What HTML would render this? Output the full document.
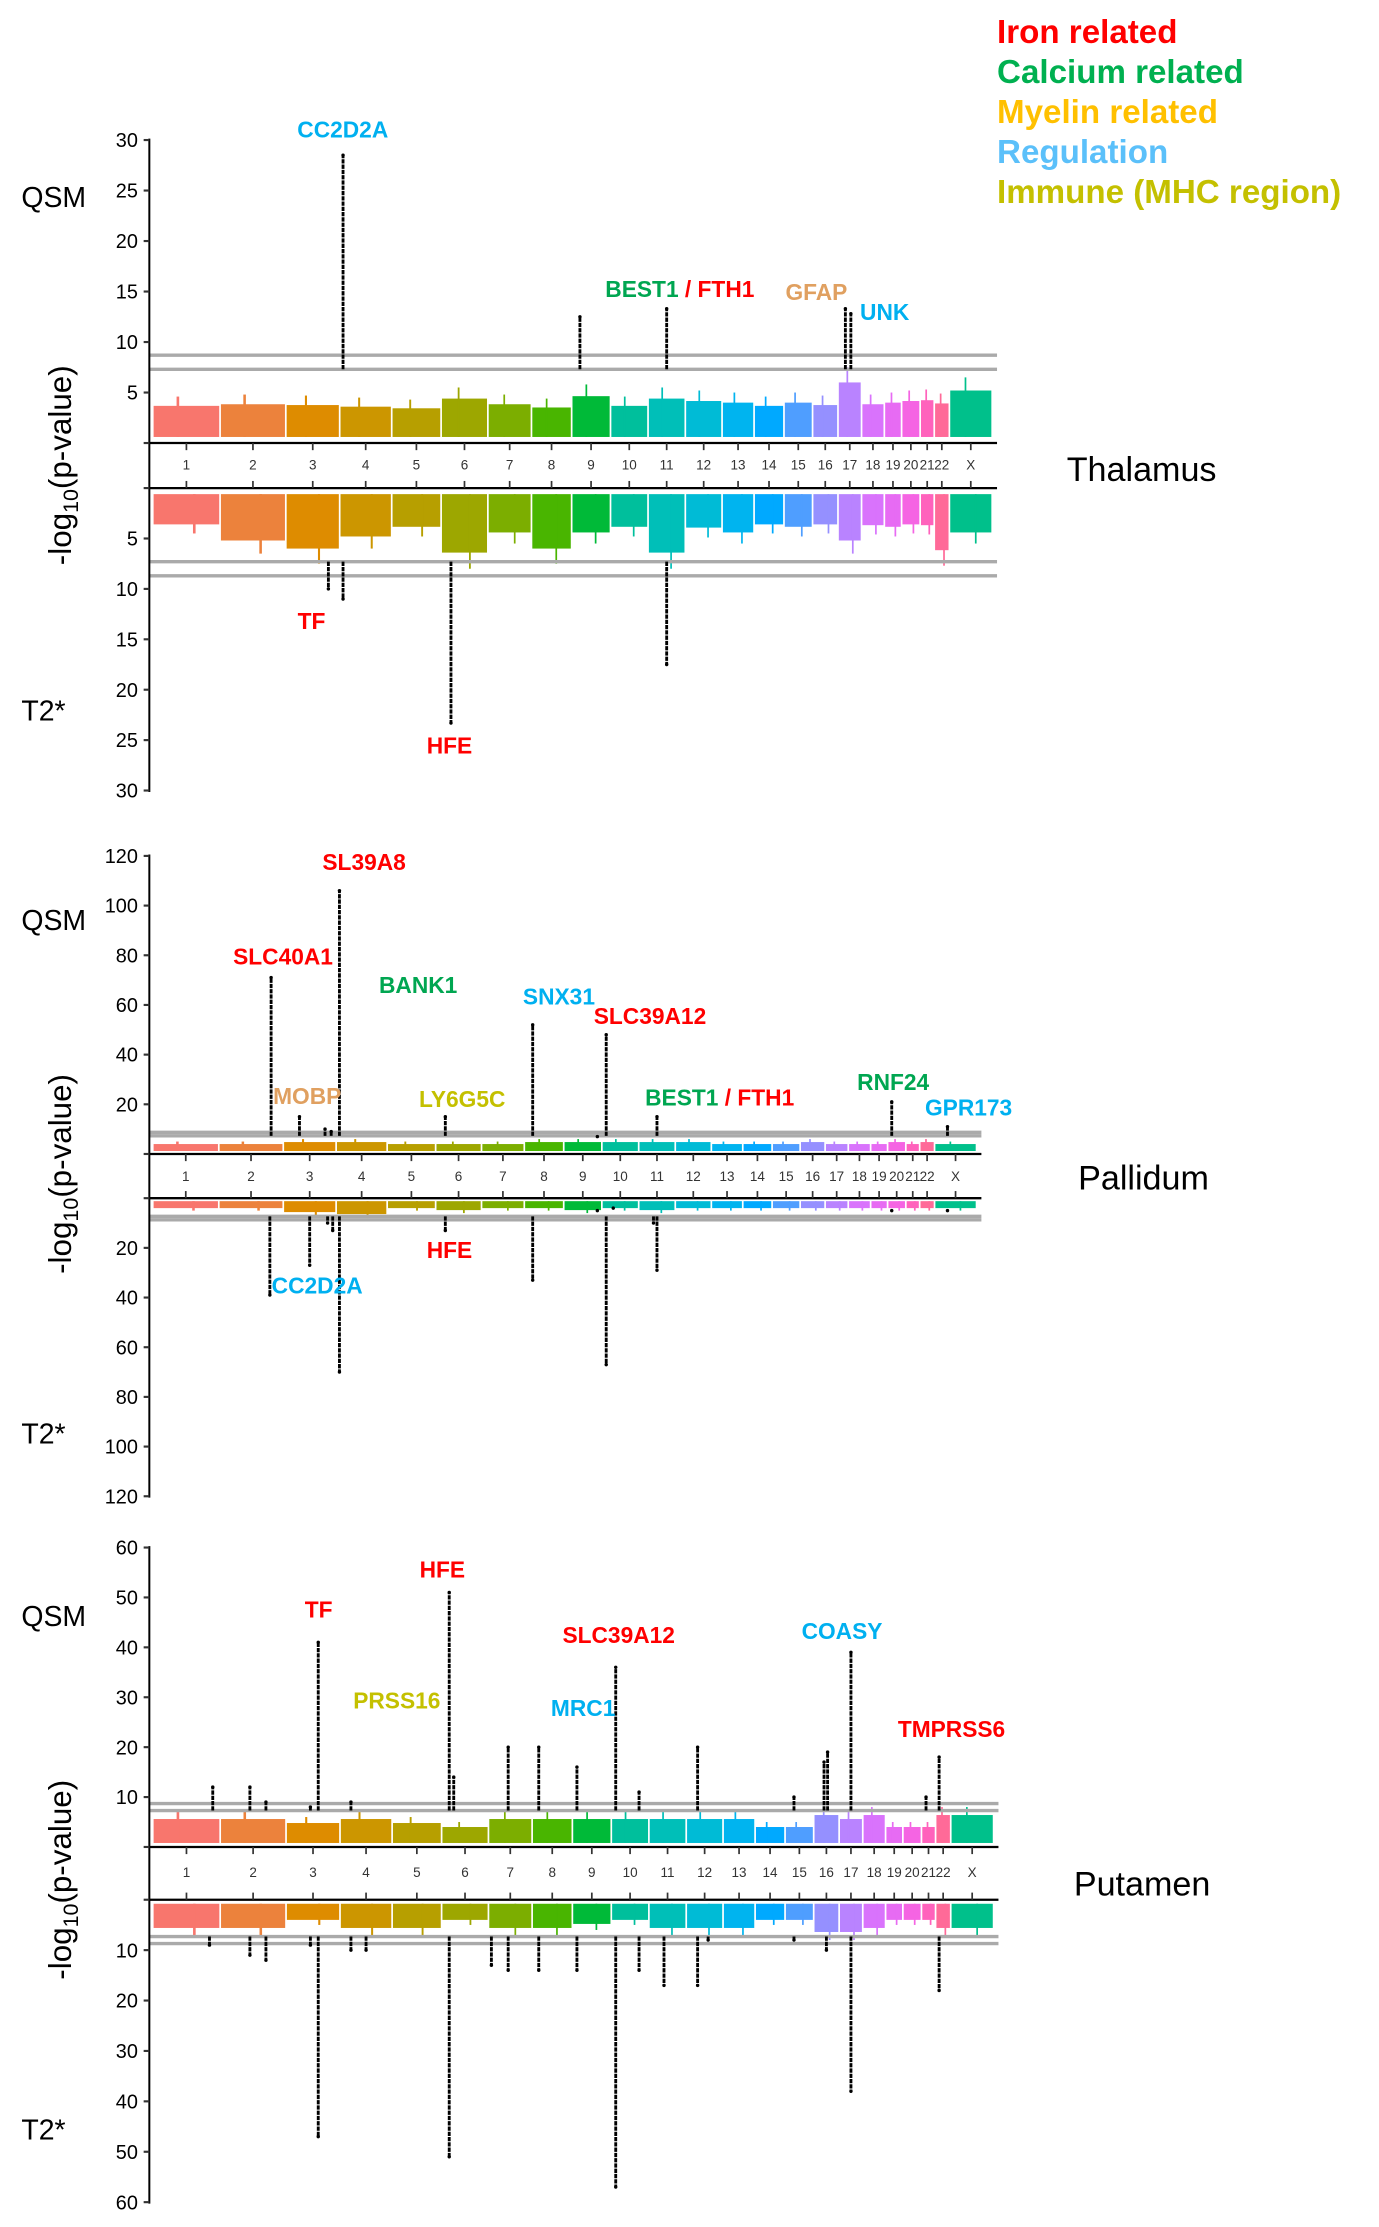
<!DOCTYPE html>
<html><head><meta charset="utf-8">
<style>
html,body{margin:0;padding:0;background:#fff;}
svg{display:block;}
text{font-family:"Liberation Sans",Arial,sans-serif;}
</style></head>
<body>
<svg xmlns="http://www.w3.org/2000/svg" width="1379" height="2227" viewBox="0 0 1379 2227">
<g id="fig" transform="matrix(1.4223,0,0,1.4259,0,-6.7)">
<g id="legend" font-weight="bold" font-size="23.3">
<text x="701" y="35" fill="#ff0000">Iron related</text>
<text x="701" y="63" fill="#00b050">Calcium related</text>
<text x="701" y="91" fill="#ffc000">Myelin related</text>
<text x="701" y="119" fill="#5bc0fa">Regulation</text>
<text x="701" y="147" fill="#c4c000">Immune (MHC region)</text>
</g>
</g>
</svg>
<script>
const chrNames=["1","2","3","4","5","6","7","8","9","10","11","12","13","14","15","16","17","18","19","20","21","22","X"];
const chrLengths=[249,243,198,191,181,171,159,146,141,136,135,133,115,107,102,90,83,80,59,64,47,51,156];
const chrColors=["#F8766D","#EC823C","#DE8C00","#CC9600","#B79F00","#9DA700","#7CAE00","#49B500","#00BA38","#00BF9C","#00BFB8","#00BBD6","#00B4EF","#00A9FF","#4F9EFF","#9590FF","#B983FF","#D973FC","#E76BF3","#F564E3","#FF62BC","#FF6A98","#00C08B"];
const thresholds=[7.3,8.7];

// Thalamus
const thUpBand=[4.6,4.8,4.7,4.5,4.3,5.5,4.8,4.4,5.8,4.6,5.5,5.2,5.0,4.6,5.0,4.7,7.5,4.8,5.0,5.2,5.3,4.9,6.5];
const thDnBand=[4.5,6.5,7.5,6.0,4.8,8.0,5.5,7.5,5.5,4.8,8.0,4.9,5.5,4.5,4.8,4.5,6.5,4.6,4.8,4.5,4.6,7.7,5.5];
const thHitChr=["4","9","11","17","17","3","4","6","11"];
const thHitPos=[0.05,0.2,0.5,0.3,0.55,0.8,0.05,0.2,0.5];
const thHitVal=[28.5,12.5,13.3,13.3,12.8,10,11,23.3,17.5];
const thHitSide=["up","up","up","up","up","dn","dn","dn","dn"];

// Pallidum
const paUpBand=[5,5,6,6,5,5,5,6,6,6,6,6,5,5,5,6,5,5,5,6,5,6,5];
const paDnBand=[5,5,7,8,5,6,5,5,6,5,6,5,5,5,5,5,5,5,5,5,5,5,5];
const paHitChr=["2","3","3","3","4","6","8","9","10","11","20","X","2","3","3","3","4","6","8","9","10","10","11","11","20","X"];
const paHitPos=[0.82,0.3,0.8,0.92,0.05,0.2,0.2,0.9,0.1,0.5,0.2,0.3,0.8,0.5,0.85,0.95,0.05,0.2,0.2,0.9,0.1,0.3,0.4,0.5,0.2,0.3];
const paHitVal=[71,15,10,9,106,15,52,7,48,15,21,11,39,27,10,13,70,13,33,5,67,4,10,29,5,5];
const paHitSide=["up","up","up","up","up","up","up","up","up","up","up","up","dn","dn","dn","dn","dn","dn","dn","dn","dn","dn","dn","dn","dn","dn"];

// Putamen
const puUpBand=[7,7,6,7,6,5,7,7,7,7,7,7,7,5,5,8,7,8,5,5,5,8,8,5];
const puDnBand=[7,7,5,7,7,5,7,7,6,5,7,7,7,5,5,8,8,7,5,5,5,7,7,5];
const puHitChr=["1","2","2","3","3","4","6","6","7","8","9","10","10","12","15","16","16","17","21","22","1","2","2","3","3","4","4","6","7","7","8","9","10","10","11","12","12","15","16","17","22"];
const puHitPos=[0.9,0.45,0.7,0.45,0.6,0.2,0.15,0.25,0.45,0.15,0.1,0.1,0.75,0.3,0.3,0.4,0.55,0.5,0.3,0.2,0.85,0.45,0.7,0.45,0.6,0.2,0.5,0.15,0.05,0.45,0.15,0.1,0.1,0.75,0.4,0.3,0.6,0.3,0.5,0.5,0.2];
const puHitVal=[12,12,9,8,41,9,51,14,20,20,16,36,11,20,10,17,19,39,10,18,9,11,12,9,47,10,10,51,13,14,14,14,57,14,17,17,8,8,10,38,18];
const puHitSide=["up","up","up","up","up","up","up","up","up","up","up","up","up","up","up","up","up","up","up","up","dn","dn","dn","dn","dn","dn","dn","dn","dn","dn","dn","dn","dn","dn","dn","dn","dn","dn","dn","dn","dn"];

const NS="http://www.w3.org/2000/svg";
const svg=document.getElementById('fig');
function mk(tag,attrs,parent){const e=document.createElementNS(NS,tag);for(const k in attrs)e.setAttribute(k,attrs[k]);(parent||svg).appendChild(e);return e;}

function panel(cfg){
  const g=mk('g',{});
  
  
  const total=chrLengths.reduce((a,b)=>a+b,0);
  const gap=1.2;
  const scale=(cfg.xR-cfg.xL-gap*22)/total;
  const starts=[];let acc=cfg.xL;
  chrLengths.forEach((L,i)=>{starts.push(acc);acc+=L*scale+gap;});
  const xOf=(c,p)=>{const i=chrNames.indexOf(c);return starts[i]+p*chrLengths[i]*scale;};
  const yU=v=>cfg.y0u-v*cfg.su, yD=v=>cfg.y0d+v*cfg.sd;
  chrLengths.forEach((L,i)=>{
    const x=starts[i],w=L*scale;
    const bu=mk('rect',{x:x,y:yU(cfg.upBand[i]*0.8),width:w,height:yU(cfg.off)-yU(cfg.upBand[i]*0.8),fill:chrColors[i]},g);
    
    
    const su=mk('rect',{x:x+w*0.35,y:yU(cfg.upBand[i]),width:Math.max(1.2,w*0.04),height:yU(cfg.off)-yU(cfg.upBand[i]),fill:chrColors[i]},g);
    
    
    const bd=mk('rect',{x:x,y:yD(cfg.off),width:w,height:yD(cfg.dnBand[i]*0.8)-yD(cfg.off),fill:chrColors[i]},g);
    
    
    const sd=mk('rect',{x:x+w*0.6,y:yD(cfg.off),width:Math.max(1.2,w*0.04),height:yD(cfg.dnBand[i])-yD(cfg.off),fill:chrColors[i]},g);
    
    
  });
  thresholds.forEach(t=>{
    const l1=mk('line',{x1:cfg.xL-3,x2:cfg.xR+4,y1:yU(t),y2:yU(t),stroke:'#aaa','stroke-width':2.4},g);
    
    
    const l2=mk('line',{x1:cfg.xL-3,x2:cfg.xR+4,y1:yD(t),y2:yD(t),stroke:'#aaa','stroke-width':2.4},g);
    
    
  });
  cfg.hitChr.forEach((c,i)=>{
    const x=xOf(c,cfg.hitPos[i]);const v=cfg.hitVal[i];
    const up=cfg.hitSide[i]==='up';
    const y1=up?yU(Math.min(thresholds[0],v)):yD(Math.min(thresholds[0],v));
    const y2=up?yU(v):yD(v);
    const h=mk('line',{x1:x,x2:x,y1:y1,y2:y2,stroke:'#000','stroke-width':2,'stroke-dasharray':'3 0.7'},g);
    
    
    const d=mk('circle',{cx:x,cy:y2,r:1.2,fill:'#000'},g);
    
    
  });
  const ax=mk('line',{x1:cfg.xL-3,x2:cfg.xR+4,y1:cfg.y0u,y2:cfg.y0u,stroke:'#000','stroke-width':1.6},g);
  
  
  const ax2=mk('line',{x1:cfg.xL-3,x2:cfg.xR+4,y1:cfg.y0d,y2:cfg.y0d,stroke:'#000','stroke-width':1.6},g);
  
  
  const ya=mk('line',{x1:105,x2:105,y1:yU(cfg.max)-1,y2:yD(cfg.max)+1,stroke:'#000','stroke-width':1.4},g);
  
  
  chrNames.forEach((n,i)=>{
    const cx=starts[i]+chrLengths[i]*scale/2;
    const t1=mk('line',{x1:cx,x2:cx,y1:cfg.y0u,y2:cfg.y0u+5,stroke:'#333','stroke-width':1.2},g);
    
    
    const t2=mk('line',{x1:cx,x2:cx,y1:cfg.y0d-5,y2:cfg.y0d,stroke:'#333','stroke-width':1.2},g);
    
    
    const tx=mk('text',{x:cx,y:cfg.labY,'font-size':9.5,'text-anchor':'middle',fill:'#333'},g);
    tx.textContent=n;
    
    
  });
  for(let v=0;v<=cfg.max;v+=cfg.step){
    [yU(v),yD(v)].forEach(yy=>{
      const tk=mk('line',{x1:101,x2:105,y1:yy,y2:yy,stroke:'#333','stroke-width':1.5},g);
      
      
      if(v>0){const t=mk('text',{x:97,y:yy+5,'font-size':14,'text-anchor':'end'},g);t.textContent=v;
        
        }
    });
  }
  const q=mk('text',{x:15,y:cfg.qsmY,'font-size':20},g);q.textContent='QSM';
  
  const t2=mk('text',{x:15,y:cfg.t2Y,'font-size':20},g);t2.textContent='T2*';
  
  const yl=mk('text',{x:0,y:0,'font-size':22,'text-anchor':'middle',transform:`translate(50,${cfg.midY}) rotate(-90)`},g);
  yl.innerHTML='-log<tspan font-size="15" dy="5">10</tspan><tspan dy="-5">(p-value)</tspan>';
  
  const rn=mk('text',{x:cfg.regX,y:cfg.midY+11,'font-size':24},g);rn.textContent=cfg.region;
  
  cfg.labels.forEach(L=>{
    const t=mk('text',{x:L[1],y:L[2],'font-size':16,'font-weight':'bold','text-anchor':'middle',fill:L[3]},g);
    t.innerHTML=L[0];
    
  });
}
const RED='#ff0000',GRN='#00a651',TAN='#e0a060',BLU='#00b0f0',OLV='#c4c000';
panel({name:'thalamus',region:'Thalamus',xL:108,xR:697,y0u:315.4,su:7.083,y0d:347,sd:7.07,max:30,step:5,off:0.6,labY:334,qsmY:150,t2Y:510,midY:331,regX:750,
 upBand:thUpBand,dnBand:thDnBand,hitChr:thHitChr,hitPos:thHitPos,hitVal:thHitVal,hitSide:thHitSide,
 labels:[['CC2D2A',241,101,BLU],['BEST1 <tspan fill="#ff0000">/ FTH1</tspan>',478,213,GRN],['GFAP',574,215,TAN],['UNK',622,229,BLU],['TF',219,446,RED],['HFE',316,533,RED]]});
panel({name:'pallidum',region:'Pallidum',xL:108,xR:686,y0u:814,su:1.742,y0d:845,sd:1.742,max:120,step:20,off:1.2,labY:833,qsmY:657,t2Y:1017,midY:828,regX:758,
 upBand:paUpBand,dnBand:paDnBand,hitChr:paHitChr,hitPos:paHitPos,hitVal:paHitVal,hitSide:paHitSide,
 labels:[['SL39A8',256,615,RED],['SLC40A1',199,681,RED],['BANK1',294,701,GRN],['SNX31',393,709,BLU],['SLC39A12',457,723,RED],['MOBP',216,779,TAN],['LY6G5C',325,781,OLV],['BEST1 <tspan fill="#ff0000">/ FTH1</tspan>',506,780,GRN],['RNF24',628,769,GRN],['GPR173',681,787,BLU],['HFE',316,887,RED],['CC2D2A',223,912,BLU]]});
panel({name:'putamen',region:'Putamen',xL:108,xR:698,y0u:1300,su:3.5,y0d:1337,sd:3.535,max:60,step:10,off:0.8,labY:1321,qsmY:1145,t2Y:1505,midY:1323,regX:755,
 upBand:puUpBand,dnBand:puDnBand,hitChr:puHitChr,hitPos:puHitPos,hitVal:puHitVal,hitSide:puHitSide,
 labels:[['HFE',311,1111,RED],['TF',224,1139,RED],['SLC39A12',435,1157,RED],['COASY',592,1154,BLU],['PRSS16',279,1203,OLV],['MRC1',410,1208,BLU],['TMPRSS6',669,1223,RED]]});
</script>
</body></html>
